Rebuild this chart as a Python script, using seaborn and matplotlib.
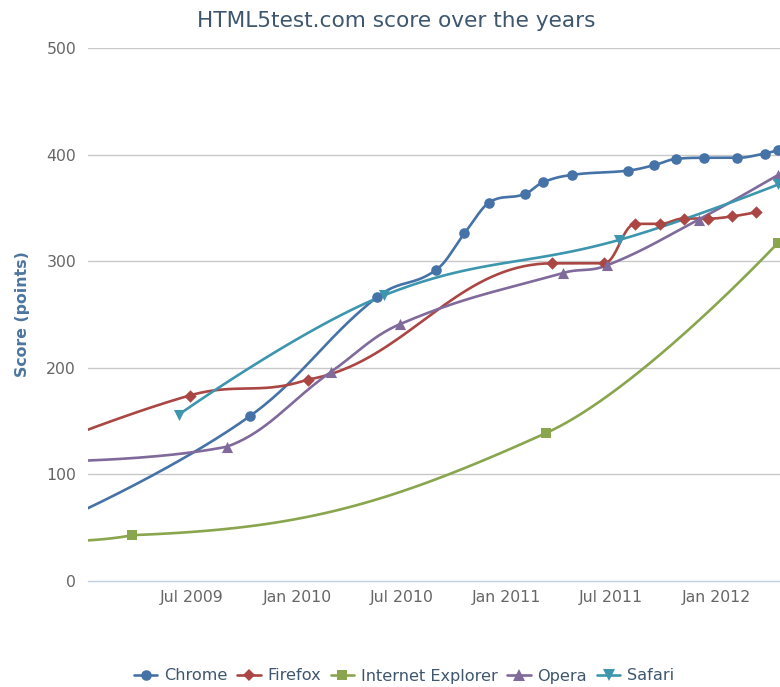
import numpy as np
import pandas as pd
import matplotlib
matplotlib.use("Agg")
import matplotlib.pyplot as plt
import matplotlib.dates as mdates
from matplotlib.lines import Line2D
import seaborn as sns

# ---------------- data ----------------
chrome_dates = ["2008-12-11", "2009-10-11", "2010-05-19", "2010-08-31", "2010-10-19",
                "2010-11-30", "2011-02-01", "2011-03-05", "2011-04-25", "2011-07-31",
                "2011-09-14", "2011-10-23", "2011-12-10", "2012-02-06", "2012-03-25",
                "2012-04-17"]
chrome_scores = [63, 155, 266, 292, 326, 355, 363, 374, 381, 385, 390, 396, 397, 397, 401, 404]

firefox_dates = ["2008-06-17", "2009-06-27", "2010-01-19", "2011-03-21", "2011-06-19",
                 "2011-08-13", "2011-09-25", "2011-11-05", "2011-12-18", "2012-01-28",
                 "2012-03-11"]
firefox_scores = [100, 174, 189, 298, 298, 335, 335, 340, 340, 342, 346]

ie_dates = ["2008-11-01", "2009-03-19", "2011-03-11", "2012-04-17"]
ie_scores = [37, 43, 139, 317]

opera_dates = ["2008-10-08", "2009-08-31", "2010-02-28", "2010-06-29", "2011-04-09",
               "2011-06-24", "2011-12-01", "2012-04-18"]
opera_scores = [112, 126, 196, 241, 289, 296, 339, 381]

safari_dates = ["2009-06-08", "2010-06-01", "2011-07-16", "2012-04-18"]
safari_scores = [156, 268, 320, 372]

browsers = ["Chrome", "Firefox", "Internet Explorer", "Opera", "Safari"]
series_dates = [chrome_dates, firefox_dates, ie_dates, opera_dates, safari_dates]
series_scores = [chrome_scores, firefox_scores, ie_scores, opera_scores, safari_scores]

tick_dates = ["2009-01-01", "2009-07-01", "2010-01-01", "2010-07-01",
              "2011-01-01", "2011-07-01", "2012-01-01"]
tick_labels = ["", "Jul 2009", "Jan 2010", "Jul 2010", "Jan 2011", "Jul 2011", "Jan 2012"]
y_ticks = [0, 100, 200, 300, 400, 500]

title_text = "HTML5test.com score over the years"
y_title = "Score (points)"

# ---------------- styling ----------------
colors = ["#4572A7", "#AA4643", "#89A54E", "#80699B", "#3D96AE"]
markers = ["o", "D", "s", "^", "v"]
msizes = [58, 40, 60, 64, 64]


def hc_spline(xs, ys, smoothing=1.5, n=40):
    """Highcharts-style spline through the points (bezier segments)."""
    xs = np.asarray(xs, float)
    ys = np.asarray(ys, float)
    N = len(xs)
    lc = [(xs[i], ys[i]) for i in range(N)]
    rc = [(xs[i], ys[i]) for i in range(N)]
    den = smoothing + 1
    for i in range(1, N - 1):
        px, py = xs[i], ys[i]
        lx, ly = xs[i - 1], ys[i - 1]
        nx, ny = xs[i + 1], ys[i + 1]
        lcx = (smoothing * px + lx) / den
        lcy = (smoothing * py + ly) / den
        rcx = (smoothing * px + nx) / den
        rcy = (smoothing * py + ny) / den
        corr = ((rcy - lcy) * (rcx - px)) / (rcx - lcx) + py - rcy
        lcy += corr
        rcy += corr
        if lcy > ly and lcy > py:
            lcy = max(ly, py); rcy = 2 * py - lcy
        elif lcy < ly and lcy < py:
            lcy = min(ly, py); rcy = 2 * py - lcy
        if rcy > ny and rcy > py:
            rcy = max(ny, py); lcy = 2 * py - rcy
        elif rcy < ny and rcy < py:
            rcy = min(ny, py); lcy = 2 * py - rcy
        lc[i] = (lcx, lcy)
        rc[i] = (rcx, rcy)
    t = np.linspace(0, 1, n)
    ox, oy = [xs[0]], [ys[0]]
    for i in range(1, N):
        p0 = (xs[i - 1], ys[i - 1]); c1 = rc[i - 1]; c2 = lc[i]; p3 = (xs[i], ys[i])
        bx = (1 - t) ** 3 * p0[0] + 3 * (1 - t) ** 2 * t * c1[0] + 3 * (1 - t) * t ** 2 * c2[0] + t ** 3 * p3[0]
        by = (1 - t) ** 3 * p0[1] + 3 * (1 - t) ** 2 * t * c1[1] + 3 * (1 - t) * t ** 2 * c2[1] + t ** 3 * p3[1]
        ox.extend(bx[1:]); oy.extend(by[1:])
    return np.array(ox), np.array(oy)


sns.set_style("white")
plt.rcParams["font.family"] = ["DejaVu Sans"]

fig = plt.figure(figsize=(7.8, 6.87), dpi=100)
W, H = 780, 687
ax = fig.add_axes([88 / W, 1 - 581 / H, 692 / W, 533 / H])

# build point and curve tables
pts_rows = []
curve_rows = []
for b, d, s in zip(browsers, series_dates, series_scores):
    xnum = mdates.date2num(pd.to_datetime(d).to_pydatetime())
    for xv, yv in zip(xnum, s):
        pts_rows.append({"browser": b, "x": xv, "y": yv})
    cx, cy = hc_spline(xnum, s)
    for xv, yv in zip(cx, cy):
        curve_rows.append({"browser": b, "x": xv, "y": yv})
pts = pd.DataFrame(pts_rows)
curves = pd.DataFrame(curve_rows)
palette = dict(zip(browsers, colors))

for g in y_ticks[1:]:
    ax.axhline(g, color="#C8C8C8", lw=1.0, zorder=0)

sns.lineplot(data=curves, x="x", y="y", hue="browser", palette=palette,
             sort=False, estimator=None, linewidth=1.9, legend=False, ax=ax, zorder=2)
for b, c, m, ms in zip(browsers, colors, markers, msizes):
    sub = pts[pts.browser == b]
    sns.scatterplot(data=sub, x="x", y="y", color=c, marker=m, s=ms,
                    linewidth=0, legend=False, ax=ax, zorder=3)

xmin = mdates.date2num(pd.Timestamp("2009-01-01"))
xmax = mdates.date2num(pd.Timestamp("2012-04-21"))
ax.set_xlim(xmin, xmax)
ax.set_ylim(0, 500)

ax.set_xticks(mdates.date2num(pd.to_datetime(tick_dates).to_pydatetime()))
ax.set_xticklabels(tick_labels)
ax.set_yticks(y_ticks)
ax.set_yticklabels([str(v) for v in y_ticks])

for sp in ["top", "right", "left"]:
    ax.spines[sp].set_visible(False)
ax.spines["bottom"].set_color("#C0D0E0")
ax.spines["bottom"].set_linewidth(1.0)
ax.spines["bottom"].set_zorder(1)

ax.tick_params(axis="x", length=3.6, width=1.0, color="#C0D0E0", pad=3.0,
               labelsize=11.3, labelcolor="#666666", direction="out")
ax.tick_params(axis="y", length=0, pad=8.6, labelsize=11.3, labelcolor="#666666")
ax.set_xlabel("")
ax.set_ylabel("")

fig.text(22.7 / W, 1 - 314 / H, y_title, rotation=90, ha="center", va="center",
         fontsize=11.3, fontweight="bold", color="#4D759E")
fig.text(396 / W, 1 - 27.3 / H, title_text, ha="center", va="baseline",
         fontsize=15.6, color="#3E576F")

handles = [Line2D([0], [0], color=c, lw=1.9, marker=m, markersize=np.sqrt(ms),
                  markeredgewidth=0) for c, m, ms in zip(colors, markers, msizes)]
leg = fig.legend(handles, browsers, loc="center", bbox_to_anchor=(404 / W, 1 - 676 / H),
                 ncol=5, frameon=False, fontsize=11.6, handlelength=1.45,
                 handletextpad=0.41, columnspacing=0.62, borderpad=0, borderaxespad=0)
for t in leg.get_texts():
    t.set_color("#3E576F")

fig.savefig("out.png", dpi=100)
